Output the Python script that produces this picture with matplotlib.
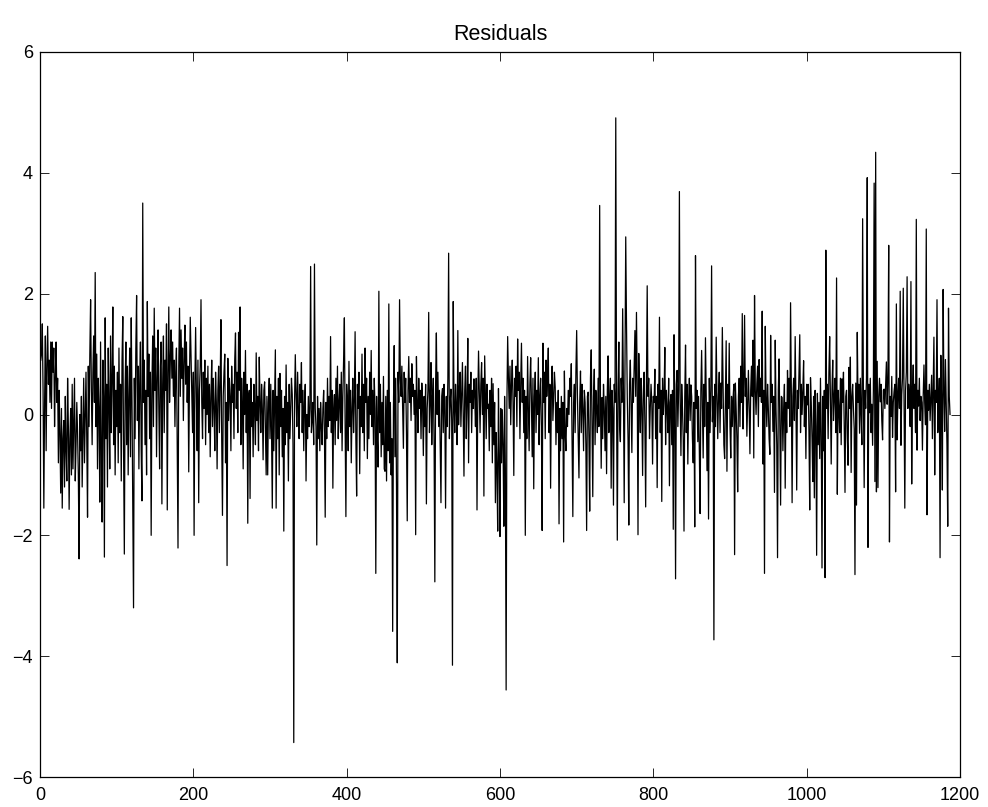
import numpy as np
import matplotlib
matplotlib.use("Agg")
import matplotlib.pyplot as plt

plt.rcParams["font.family"] = ["Liberation Sans", "DejaVu Sans"]

# Residual series, stored in blocks of 100 observations
resid_000 = [
    0.9, 1.0, 1.5, 0.4, -1.55, 0.2, 1.3, -0.6, 0.8, 1.46, 0.5, 0.9, 0.2, 1.2, 0.1, 1.2, 0.7, 1.1, -0.2, 0.6,
    1.2, 0.2, 0.6, -0.8, 0.4, -0.3, -1.3, 0.1, -1.55, -0.4, -0.1, -1.2, 0.3, -0.6, -1.1, 0.6, -0.2, -1.57, -0.4, 0.1,
    -1.0, 0.5, -0.9, -0.2, 0.6, -1.1, -0.5, 0.2, -0.3, -1.0, -2.39, 0.0, -0.6, 0.3, -1.2, -0.3, 0.6, -0.8, -0.1, 0.7,
    -0.4, -1.7, 0.8, -0.2, 1.0, 1.9, 0.4, -0.5, 0.7, 1.3, 0.2, 2.35, -0.2, 1.0, -0.9, 0.6, 0.1, -1.45, 1.2, -0.6,
    -1.78, 0.9, 0.3, -2.36, 1.6, -0.4, 0.5, -1.2, 1.1, 0.2, -0.9, 1.3, -0.3, 0.6, 1.78, -0.5, 0.8, -1.0, 0.4, -0.2,
]
resid_100 = [
    0.7, -0.8, 1.1, -0.3, 0.5, -1.1, 0.9, 1.62, -0.6, -2.31, 0.4, 1.2, -0.5, 0.8, -1.0, 0.3, 1.1, -0.7, 1.6, 0.2,
    -1.53, -3.2, 0.6, -0.4, 1.1, 1.97, -0.1, 0.8, -0.9, 0.5, 1.2, -0.6, -1.43, 3.5, 0.2, 0.9, -0.5, 0.4, -1.0, 1.87,
    0.3, 1.0, -0.4, 0.7, -2.0, 0.5, 1.3, -0.2, 1.76, 0.4, 1.1, -0.7, 0.6, 1.4, 0.1, -0.9, 0.8, 1.2, -1.48, 0.5,
    1.3, -0.3, 0.9, 0.4, 1.5, -1.58, 0.7, 1.78, 0.2, 0.9, 1.4, 0.6, 1.2, 0.3, 0.9, -0.2, 0.7, 1.1, -0.5, -2.21,
    0.8, 1.76, 0.3, 1.4, 0.6, 1.1, -0.1, 0.9, 1.48, 0.5, 1.2, 0.2, 0.8, -0.95, 0.6, 1.61, 1.0, 0.4, -0.3, 0.7,
]
resid_200 = [
    -2.0, 0.5, 1.44, 0.3, -0.6, 0.9, -1.46, 0.4, 0.8, 1.9, 0.2, -0.4, 0.7, 0.1, 0.9, -0.5, 0.6, 0.0, 0.8, -0.3,
    0.5, -0.7, 0.3, 0.9, -0.2, 0.6, 0.1, -0.6, 0.7, 0.2, -0.9, 0.4, 0.8, -0.3, 0.5, 1.57, -0.4, -1.67, 0.3, 0.7,
    1.0, -0.8, 0.2, -2.5, 0.93, -0.1, 0.6, 0.3, -0.6, 0.8, 0.2, 0.5, -0.4, 0.9, 1.35, 0.1, 0.7, -0.3, 1.36, 0.4,
    1.78, -0.5, 0.6, 0.2, -0.9, 0.7, 0.0, 1.06, -0.3, 0.5, -1.8, 0.3, 0.4, -1.39, 0.6, -0.2, 0.2, -0.7, 0.5, 0.1,
    -0.5, 1.02, -0.1, 0.3, -0.6, 0.95, 0.2, -0.3, 0.5, 0.1, -0.75, 0.4, 0.54, -0.2, -1.0, 0.3, -1.0, 0.2, 0.6, -0.4,
]
resid_300 = [
    0.5, -0.3, -1.55, 0.4, -0.6, 0.2, 1.07, -1.55, 0.3, -0.4, 0.6, -1.0, 0.68, -0.2, 0.4, -0.7, 0.1, -1.93, 0.3, -0.5,
    0.82, -0.3, 0.2, -1.1, 0.5, -0.4, 0.1, 0.6, 0.33, -0.5, -5.43, 0.2, 0.99, 0.3, -0.2, 0.7, 0.1, -0.4, 0.5, 0.2,
    0.86, -0.3, 0.4, -0.6, 0.2, 0.5, -1.1, 0.0, -0.4, 0.3, -0.2, 0.1, 2.45, -0.3, -0.1, 0.2, -0.5, 2.49, 0.1, -0.2,
    -2.16, 0.3, -0.4, 0.1, -0.6, 0.2, -0.2, -0.5, 0.1, 0.4, -0.3, -1.7, 0.2, -0.4, 0.6, -0.2, 0.3, -0.1, 1.29, -0.3,
    0.4, -1.22, 0.1, 0.33, -0.5, 0.6, -0.1, 0.8, -0.4, 0.2, 0.5, -0.3, 0.7, -0.6, 0.3, 0.9, 1.6, -0.2, -1.69, 0.5,
]
resid_400 = [
    0.2, -0.6, 0.88, -0.2, 0.4, -0.8, 0.1, 0.6, -0.3, 0.2, 1.37, -0.4, -1.35, 0.5, 0.1, 0.7, -0.98, 0.3, -0.2, 1.0,
    -0.3, 0.5, -0.6, 1.1, 0.2, 0.6, -0.73, 0.3, -0.4, 0.7, 0.0, 1.06, -0.2, 0.4, -0.5, 0.6, 0.1, -2.63, 0.3, -0.4,
    -0.87, 2.04, -0.3, 0.5, -0.7, 0.2, -0.5, 0.63, -0.9, -0.94, 0.3, -1.1, 0.4, -0.6, 1.83, -0.8, 0.2, -1.0, -0.4, -3.59,
    0.1, 1.14, -0.7, 0.6, -1.2, -4.11, 0.7, 0.2, 1.9, 0.6, 0.3, 0.8, 0.1, -0.56, 0.7, 0.2, 0.6, -0.3, -1.76, 0.4,
    0.96, 0.2, 0.6, -0.1, 0.84, 0.3, 0.5, 0.0, 0.4, -1.99, 0.96, 0.2, -0.3, 0.6, 0.1, 0.4, -0.4, 0.52, 0.2, -0.68,
]
resid_500 = [
    0.3, -0.2, 0.5, -1.48, 0.1, 0.4, 1.69, -0.3, 0.2, 0.86, -0.5, 0.3, 0.6, -0.4, -2.77, 0.5, 1.35, 0.0, 0.7, -0.2,
    0.4, -0.6, -1.46, 0.3, 0.43, -0.3, 0.5, 0.1, -1.55, 0.3, -0.2, 0.6, 2.67, -0.4, 0.2, 0.42, -0.1, -4.15, 1.87, 0.2,
    -0.3, 0.5, 0.1, -0.5, 1.39, -0.17, 0.4, 0.7, -0.2, 0.3, 0.86, 0.0, -1.02, 0.4, 0.8, -0.4, 0.2, 1.26, -0.8, 0.5,
    0.2, 0.7, -0.3, 0.4, 0.1, 0.59, 0.3, -0.2, 0.6, -1.58, 0.2, 1.05, 0.4, -0.3, 0.5, 0.86, 0.0, 0.6, -1.35, 0.97,
    0.3, -0.4, 0.5, 0.1, 0.17, -0.6, 0.4, -0.2, 0.6, -0.8, 0.51, -0.5, 0.2, -1.46, -0.3, -0.9, -1.93, 0.43, -0.7, -2.02,
]
resid_600 = [
    0.1, -0.8, 0.08, -0.5, -1.85, 0.3, -0.9, -4.56, 0.2, 1.29, 0.6, 0.1, 0.8, -0.17, 0.5, 0.9, 0.2, -1.01, 0.6, 0.3,
    0.8, -0.2, 1.25, 0.4, 0.7, -0.4, 0.5, 1.18, 0.2, 0.6, -0.3, 0.4, -2.0, 0.3, -0.4, 0.96, 0.1, -0.6, 0.5, 0.94,
    0.2, -0.7, 0.6, -1.23, 0.3, 0.7, -0.3, 0.4, 0.0, 0.94, -0.5, 0.3, 0.6, -0.2, -1.92, 1.18, 0.2, 0.7, -0.4, 0.9,
    0.3, 0.6, 1.1, -0.3, 0.5, -1.22, 0.4, 0.8, -0.1, 0.3, 0.7, 0.45, -0.5, 0.2, -0.3, 0.4, -1.81, 0.1, -0.6, 0.3,
    -0.4, 0.2, -2.11, 0.72, -0.3, -0.6, 0.1, -0.2, 0.4, 0.0, 0.6, 0.3, 0.84, -0.5, -1.69, 0.2, 0.5, -0.3, 0.7, 1.39,
]
resid_700 = [
    0.3, -0.4, -1.05, 0.2, 0.72, -0.3, 0.5, 0.1, -0.6, 0.4, 0.2, -0.5, -1.92, 0.3, 0.37, -0.4, -1.6, 0.6, 1.07, -0.2,
    -1.36, 0.3, 0.75, -0.5, 0.4, 0.1, -0.3, 0.6, -0.2, 3.46, 0.3, -0.89, 0.28, -0.4, 0.5, 0.1, -0.6, 0.3, -0.98, 0.4,
    0.97, -0.3, 0.2, 0.6, -1.22, 0.4, 0.1, -1.5, 0.5, 0.2, 4.91, 0.3, -2.08, 0.4, 1.2, -0.2, -0.45, 0.6, 0.2, 1.75,
    0.4, -1.46, 0.7, 2.94, 1.5, 0.3, -0.4, -1.83, 0.5, 0.9, 0.1, -0.63, 0.6, 0.2, 0.8, 1.39, 0.3, 1.69, 0.5, -1.99,
    1.01, 0.2, -0.3, 0.6, 0.1, -1.01, 0.4, 0.7, -0.2, -1.53, 0.5, 2.13, 0.3, 0.6, -0.4, 0.1, 0.5, 0.2, -0.82, 0.3,
]
resid_800 = [
    0.2, 0.75, -0.4, 0.3, -1.21, 0.5, 0.1, 1.61, -0.3, 0.4, -1.44, 0.6, 0.0, 0.3, 1.11, -0.5, 0.4, 0.1, -0.3, 0.6,
    -1.18, 0.2, 0.33, -0.5, 0.4, -1.9, 1.32, 0.1, -2.72, 0.5, 0.73, -0.2, 0.4, 3.69, 0.2, -0.68, 0.5, 0.1, -0.4, -1.93,
    0.3, 1.15, -0.3, 0.5, -0.82, 0.2, 0.6, -0.1, 0.49, 0.3, -0.4, -0.8, 0.2, -1.86, 2.63, 0.1, 0.4, -0.45, 0.3, -0.6,
    -1.64, 0.4, 1.06, 0.1, -0.72, 0.5, -0.2, 1.27, 0.3, -0.93, 0.2, -1.73, 0.6, -0.3, 0.4, 2.46, -0.12, 0.3, -3.73, 0.5,
    -0.2, 1.28, 0.3, -0.4, 0.31, 0.7, -0.3, 0.52, 0.1, 1.44, 0.4, -0.5, -0.73, 0.2, 1.22, -0.94, 0.5, 0.1, 1.18, -0.2,
]
resid_900 = [
    -0.72, 0.3, -0.2, 0.26, 0.5, -2.32, 0.52, 0.1, -0.4, -1.28, 0.3, 0.6, -0.2, 0.8, 0.2, 1.67, -0.24, 0.5, 1.64, 0.3,
    0.6, -0.36, 0.2, 0.73, 0.1, -0.65, 0.4, 0.8, 0.3, 1.23, -0.72, 1.97, 0.4, 0.0, 0.51, 0.8, -0.2, 0.91, 0.3, 0.6,
    0.2, 1.71, -0.82, 0.4, -2.63, 1.46, 0.3, -0.2, 0.5, 0.1, -0.4, -0.66, 1.31, 0.2, 0.5, -0.28, 0.3, -1.29, 1.23, 0.1,
    -0.5, -2.37, 0.4, 0.92, -0.2, -1.5, 0.3, 0.28, -0.6, 0.1, 0.5, -1.22, 0.2, -0.3, 0.73, 0.1, 0.6, -0.2, 1.85, 0.4,
    -1.46, 0.3, 0.6, -0.1, 1.29, 0.2, -1.25, 0.4, 0.1, 0.7, 1.32, -0.3, 0.5, 0.0, 0.4, 0.89, -0.2, 0.3, -0.73, 0.5,
]
resid_1000 = [
    0.16, 0.5, -0.3, -1.58, 0.61, 0.2, -0.4, -1.11, 0.3, -1.38, 0.4, -0.2, -2.33, 0.35, -0.5, 0.2, -0.73, 0.6, -0.3, -2.54,
    0.3, -0.6, 0.4, -2.7, 2.72, 0.1, 0.5, -0.4, 0.7, 1.29, 0.2, -0.82, 0.4, 0.9, -0.1, 0.28, 0.6, -0.3, 2.26, -1.32,
    0.4, 0.1, -0.3, 0.6, -0.5, 0.59, 0.2, 0.7, -0.2, -1.29, 0.3, 0.4, -0.4, -0.84, 0.78, 0.1, 0.95, -0.96, 0.3, 0.5,
    0.1, -0.24, -2.65, 0.52, -1.5, 1.36, 0.2, 0.5, -0.31, 0.6, 0.0, -0.5, 3.24, 0.3, -1.21, 0.4, 0.1, 0.6, 3.92, -2.2,
    0.5, 0.03, 0.6, -0.3, 0.17, -0.51, 0.4, 3.83, -1.11, 4.34, -1.28, 0.88, -1.21, 0.3, 0.6, 0.21, 0.5, -0.1, -0.42, 0.4,
]
resid_1100 = [
    0.42, 0.1, 0.5, 0.87, 0.17, 0.6, 2.8, -2.11, 0.3, -0.03, 0.63, -0.38, 0.2, 0.38, 0.5, -1.28, 1.83, -0.42, 0.3, 0.6,
    0.1, 2.04, -0.51, 0.33, 0.6, 2.09, 0.2, -1.55, 0.4, 0.7, 2.28, 0.1, 0.5, 0.33, -0.2, 2.2, -1.15, 0.4, 0.82, 0.1,
    0.5, -0.3, 3.23, -0.59, 0.4, 0.14, 0.6, -0.1, 0.3, 0.2, -0.59, 0.31, 0.82, 0.2, -0.17, 3.07, -1.66, 0.4, 0.07, 0.5,
    -0.1, 0.3, 0.65, -0.4, 0.5, 1.28, -1.0, 0.4, 0.2, 1.9, -0.3, 0.07, 0.6, -2.37, 0.98, 0.2, -1.25, 2.07, 0.4, -0.28,
    0.91, 0.2, -0.5, -1.85, 1.76, 0.3, 0.0,
]

x_ticks = [0, 200, 400, 600, 800, 1000, 1200]
y_ticks = [-6, -4, -2, 0, 2, 4, 6]

residuals = np.array(resid_000 + resid_100 + resid_200 + resid_300 + resid_400 + resid_500
                     + resid_600 + resid_700 + resid_800 + resid_900 + resid_1000 + resid_1100)
obs = np.arange(1, len(residuals) + 1)

fig = plt.figure(figsize=(9.88, 8.07), dpi=100)
ax = fig.add_axes([40 / 988, 1 - 777 / 807, 920 / 988, 725 / 807])
ax.plot(obs, residuals, color="black", linewidth=0.9)

ax.set_xlim(0, 1200)
ax.set_ylim(-6, 6)
ax.set_xticks(x_ticks)
ax.set_yticks(y_ticks)
ax.set_xticklabels([str(v) for v in x_ticks])
ax.set_yticklabels([str(v).replace("-", "\u2212") for v in y_ticks])
ax.tick_params(direction="in", length=6.5, width=0.6, top=True, right=True,
               labelsize=13, colors="black")
ax.tick_params(axis="x", pad=7)
ax.tick_params(axis="y", pad=5)
for side in ax.spines.values():
    side.set_linewidth(0.9)
ax.set_title("Residuals", fontsize=15.5, pad=9)

fig.savefig("out.png", dpi=100, facecolor="white")
